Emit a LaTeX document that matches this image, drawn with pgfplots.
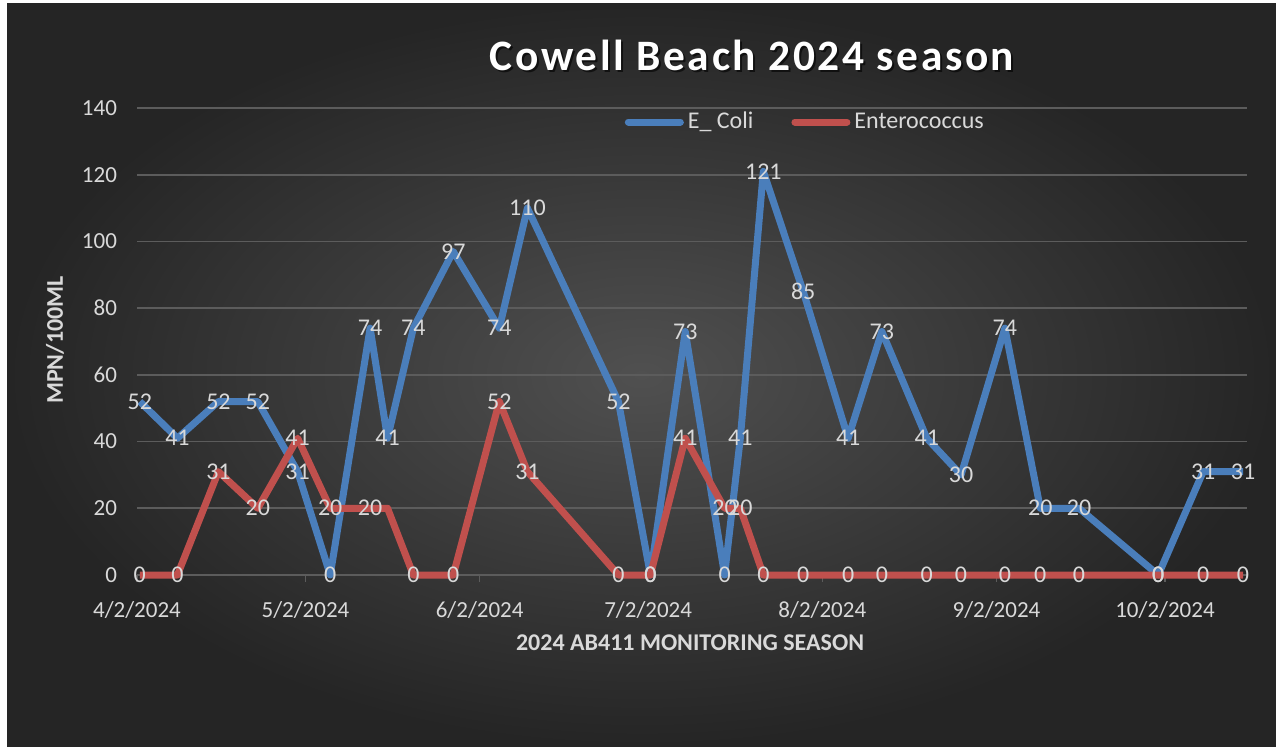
\documentclass[border=0pt]{standalone}
\usepackage{fontspec}
\setmainfont{Carlito}
\usepackage{pgfplots}
\usepackage{pgfplotstable}
\pgfplotsset{compat=1.18}
\definecolor{ecoli}{HTML}{4A7EBB}
\definecolor{entero}{HTML}{C0504D}
\definecolor{txt}{HTML}{D9D9D9}
\definecolor{gridc}{HTML}{5C5C5C}
\definecolor{bgin}{HTML}{505050}
\definecolor{bgout}{HTML}{252525}

% x = days after 4/2/2024
\pgfplotstableread{
x y
0.5 52
7.2 41
14.5 52
21.5 52
28.6 31
34.4 0
41.5 74
44.6 41
49.2 74
56.3 97
64.5 74
69.5 110
85.7 52
91.4 0
97.6 73
104.6 0
107.4 41
111.5 121
118.6 85
126.6 41
132.6 73
140.6 41
146.7 30
154.5 74
160.8 20
167.7 20
181.8 0
189.8 31
196.9 31
}\ecolitab

\pgfplotstableread{
x y
0.5 0
7.2 0
14.5 31
21.5 20
28.6 41
34.4 20
41.5 20
44.6 20
49.2 0
56.3 0
64.5 52
69.5 31
85.7 0
91.4 0
97.6 41
104.6 20
107.4 20
111.5 0
118.6 0
126.6 0
132.6 0
140.6 0
146.7 0
154.5 0
160.8 0
167.7 0
181.8 0
189.8 0
196.9 0
}\enterotab

% labels shown for Enterococcus (one overlapping label hidden, as in the reference)
\pgfplotstableread{
x y
0.5 0
7.2 0
14.5 31
21.5 20
28.6 41
34.4 20
41.5 20
49.2 0
56.3 0
64.5 52
69.5 31
85.7 0
91.4 0
97.6 41
104.6 20
107.4 20
111.5 0
118.6 0
126.6 0
132.6 0
140.6 0
146.7 0
154.5 0
160.8 0
167.7 0
181.8 0
189.8 0
196.9 0
}\enterolab

\begin{document}
\begin{tikzpicture}
\useasboundingbox (0,0) rectangle (638pt,373pt);
\fill[white] (0,0) rectangle (638pt,373pt);
\shade[inner color=bgin, outer color=bgout] (3.5pt,0) rectangle (638pt,371pt);
\begin{axis}[
  at={(68.5pt,85.5pt)}, anchor=south west,
  scale only axis, width=555pt, height=233.5pt,
  xmin=0, xmax=197.6, ymin=0, ymax=140,
  ytick={0,20,...,140},
  xtick={0,30,61,91,122,153,183},
  xticklabels={4/2/2024,5/2/2024,6/2/2024,7/2/2024,8/2/2024,9/2/2024,10/2/2024},
  ymajorgrids, grid style={gridc, line width=0.8pt},
  axis line style={draw=none},
  xtick pos=bottom, tick align=outside, major tick length=3.5pt,
  xtick style={gridc, line width=0.8pt},
  ytick style={draw=none},
  /pgf/number format/assume math mode=true,
  ticklabel style={text=txt, font=\fontsize{11.5}{13}\selectfont},
  xticklabel style={yshift=-6pt},
  yticklabel style={xshift=-3pt},
  clip=false,
  legend style={at={(0.603,0.97)}, anchor=center, draw=none, fill=none,
    text=txt, font=\fontsize{12}{13}\selectfont, legend columns=2,
    /tikz/every even column/.append style={column sep=17pt}},
  legend image code/.code={\draw[#1, line cap=round] (0pt,0pt) -- (26pt,0pt);},
]
\addplot[ecoli, line width=3.5pt, line join=round] table {\ecolitab};
\addlegendentry{E\_ Coli}
\addplot[entero, line width=3.5pt, line join=round] table {\enterotab};
\addlegendentry{Enterococcus}
\addplot[draw=none, forget plot, nodes near coords,
  every node near coord/.append style={anchor=center, text=txt, inner sep=0pt,
  font=\fontsize{12}{13}\selectfont}] table {\ecolitab};
\addplot[draw=none, forget plot, nodes near coords,
  every node near coord/.append style={anchor=center, text=txt, inner sep=0pt,
  font=\fontsize{12}{13}\selectfont}] table {\enterolab};
\end{axis}
\node[text=black, opacity=0.6, font=\fontsize{21.7}{24}\bfseries\addfontfeatures{LetterSpace=6}] at (377pt,344.5pt) {Cowell Beach 2024 season};
\node[text=white, font=\fontsize{21.7}{24}\bfseries\addfontfeatures{LetterSpace=6}] at (376pt,345.5pt) {Cowell Beach 2024 season};
\node[text=txt, font=\fontsize{12}{14}\bfseries] at (345pt,51.5pt) {2024 AB411 MONITORING SEASON};
\node[text=txt, rotate=90, font=\fontsize{12}{14}\bfseries] at (27.5pt,203pt) {MPN/100ML};
\end{tikzpicture}
\end{document}
